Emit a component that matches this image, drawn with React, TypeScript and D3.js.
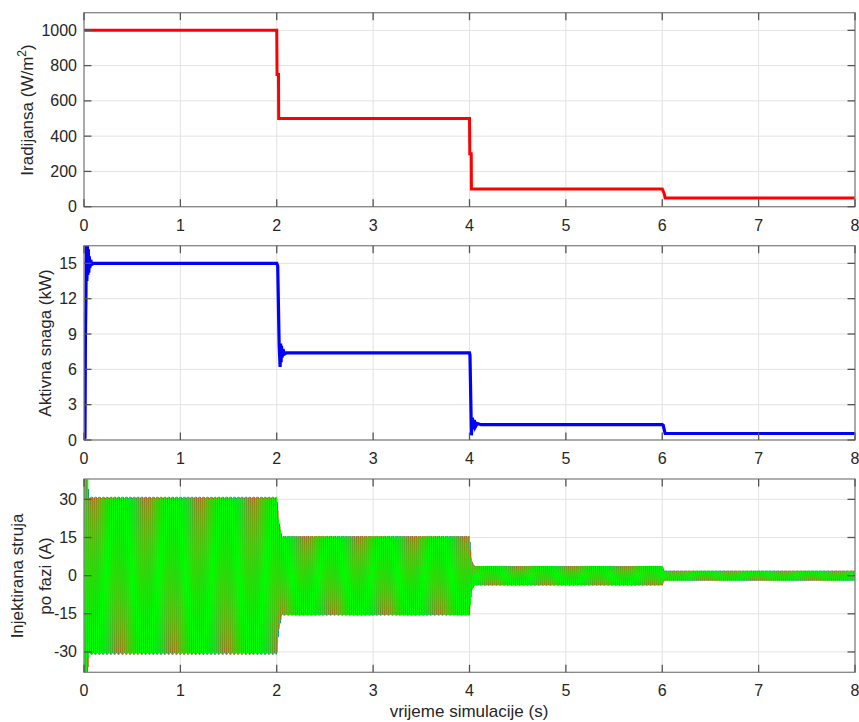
import React from "react";
import * as d3 from "d3";

const W = 859;
const H = 722;
const LEFT = 84;
const RIGHT = 855;
const FONT = "'Liberation Sans', Arial, sans-serif";
const TEXT = "#262626";

// x axis (time, s)
const timeTicks = [0, 1, 2, 3, 4, 5, 6, 7, 8];

// panel 1: irradiance (W/m2)
const irrTime = [0, 2.0, 2.003, 2.018, 2.02, 4.0, 4.003, 4.018, 4.02, 6.0, 6.02, 6.03, 8];
const irrValue = [1000, 1000, 750, 750, 500, 500, 300, 300, 100, 100, 75, 50, 50];
const irrTicks = [0, 200, 400, 600, 800, 1000];

// panel 2: active power (kW)
const powTime = [
  0, 0.005, 0.01, 0.015, 0.02, 0.025, 0.03, 0.035, 0.04, 0.045, 0.05, 0.055, 0.06, 0.07, 0.08, 0.1,
  2.0, 2.01, 2.025, 2.035, 2.04, 2.045, 2.05, 2.055, 2.065, 2.08, 2.1,
  4.0, 4.005, 4.02, 4.03, 4.04, 4.05, 4.06, 4.08, 4.12,
  6.0, 6.01, 6.03, 8,
];
const powValue = [
  0, 0.3, 0.1, 9, 12, 17.5, 13.5, 17, 14, 16.2, 14.2, 15.6, 14.6, 15.3, 14.9, 15,
  15, 14.8, 8, 6.2, 8.2, 6.6, 8, 7, 7.7, 7.3, 7.4,
  7.4, 7.2, 0.4, 1.9, 0.9, 1.7, 1.1, 1.4, 1.3,
  1.3, 1.25, 0.55, 0.55,
];
const powTicks = [0, 3, 6, 9, 12, 15];

// panel 3: injected phase current (A), amplitude envelope
const curEnvTime = [0, 0.035, 0.05, 2.0, 2.02, 2.05, 4.0, 4.02, 4.05, 6.0, 6.02, 8];
const curEnvAmp = [40, 40, 31, 31, 22, 15.6, 15.6, 6, 3.8, 3.8, 1.9, 1.9];
const curTicks = [-30, -15, 0, 15, 30];
const GRID_FREQ = 50;
const SAMPLES_PER_CYCLE = 12.5;
const phaseShift = [0, -120, 120];
const phaseColor = ["#0072BD", "#D95319", "#00FF00"];

const x = d3.scaleLinear().domain([0, 8]).range([LEFT, RIGHT]);

const panels = [
  { id: "p1", top: 12.7, bottom: 206.7, domain: [0, 1100], ticks: irrTicks },
  { id: "p2", top: 245.7, bottom: 440, domain: [0, 16.5], ticks: powTicks },
  { id: "p3", top: 479, bottom: 672.3, domain: [-38, 38], ticks: curTicks },
];

function Grid({ p, y }: { p: any; y: d3.ScaleLinear<number, number> }) {
  return (
    <g>
      {timeTicks.map((t) => (
        <line key={"gx" + t} x1={x(t)} x2={x(t)} y1={p.top} y2={p.bottom} stroke="#e3e3e3" strokeWidth={1} />
      ))}
      {p.ticks.map((v: number) => (
        <line key={"gy" + v} x1={LEFT} x2={RIGHT} y1={y(v)} y2={y(v)} stroke="#e3e3e3" strokeWidth={1} />
      ))}
    </g>
  );
}

function Frame({ p, y }: { p: any; y: d3.ScaleLinear<number, number> }) {
  const tl = 7.5;
  return (
    <g>
      <rect x={LEFT} y={p.top} width={RIGHT - LEFT} height={p.bottom - p.top} fill="none" stroke="#858585" strokeWidth={1.3} />
      {timeTicks.map((t) => (
        <g key={"tx" + t}>
          <line x1={x(t)} x2={x(t)} y1={p.bottom} y2={p.bottom - tl} stroke="#555" strokeWidth={1.3} />
          <line x1={x(t)} x2={x(t)} y1={p.top} y2={p.top + tl} stroke="#555" strokeWidth={1.3} />
          <text x={x(t)} y={p.bottom + 24} textAnchor="middle" fontSize={16} fill={TEXT} fontFamily={FONT}>
            {t}
          </text>
        </g>
      ))}
      {p.ticks.map((v: number) => (
        <g key={"ty" + v}>
          <line x1={LEFT} x2={LEFT + tl} y1={y(v)} y2={y(v)} stroke="#555" strokeWidth={1.3} />
          <line x1={RIGHT} x2={RIGHT - tl} y1={y(v)} y2={y(v)} stroke="#555" strokeWidth={1.3} />
          <text x={77} y={y(v) + 5.5} textAnchor="end" fontSize={16} fill={TEXT} fontFamily={FONT}>
            {v}
          </text>
        </g>
      ))}
    </g>
  );
}

export default function App() {
  const ys = panels.map((p) => d3.scaleLinear().domain(p.domain).range([p.bottom, p.top]));

  const irrLine = d3
    .line<number>()
    .x((_, i) => x(irrTime[i]))
    .y((d) => ys[0](d))(irrValue);

  const powLine = d3
    .line<number>()
    .x((_, i) => x(powTime[i]))
    .y((d) => ys[1](d))(powValue);

  // envelope lookup for the current traces
  const env = d3.scaleLinear().domain(curEnvTime).range(curEnvAmp).clamp(true);
  const dt = 1 / (GRID_FREQ * SAMPLES_PER_CYCLE);
  const samples = d3.range(0, 8 + dt / 2, dt);
  const curLines = phaseShift.map((ph) =>
    d3
      .line<number>()
      .x((t) => x(t))
      .y((t) => ys[2](env(t) * Math.sin(2 * Math.PI * GRID_FREQ * t + (ph * Math.PI) / 180)))(samples)
  );

  return (
    <div style={{ position: "absolute", left: 0, top: 0 }}>
      <svg width={W} height={H} style={{ display: "block", background: "#fff" }}>
        <defs>
          {panels.map((p) => (
            <clipPath id={"clip-" + p.id} key={p.id}>
              <rect x={LEFT} y={p.top} width={RIGHT - LEFT} height={p.bottom - p.top} />
            </clipPath>
          ))}
        </defs>

        {panels.map((p, i) => (
          <Grid key={"g" + p.id} p={p} y={ys[i]} />
        ))}

        <g clipPath="url(#clip-p1)">
          <path d={irrLine ?? ""} fill="none" stroke="#ff0000" strokeWidth={3} />
        </g>
        <g clipPath="url(#clip-p2)">
          <path d={powLine ?? ""} fill="none" stroke="#0000ff" strokeWidth={3.2} />
        </g>
        <g clipPath="url(#clip-p3)">
          {curLines.map((d, i) => (
            <path key={"c" + i} d={d ?? ""} fill="none" stroke={phaseColor[i]} strokeWidth={1} />
          ))}
        </g>

        {panels.map((p, i) => (
          <Frame key={"f" + p.id} p={p} y={ys[i]} />
        ))}

        <text transform="translate(33,110) rotate(-90)" textAnchor="middle" fontSize={17} fill={TEXT} fontFamily={FONT}>
          Iradijansa (W/m<tspan dy={-7} fontSize={12}>2</tspan><tspan dy={7}>)</tspan>
        </text>
        <text transform="translate(51,343) rotate(-90)" textAnchor="middle" fontSize={17} fill={TEXT} fontFamily={FONT}>
          Aktivna snaga (kW)
        </text>
        <text transform="translate(23,576) rotate(-90)" textAnchor="middle" fontSize={17} fill={TEXT} fontFamily={FONT}>
          Injektirana struja
        </text>
        <text transform="translate(51,576) rotate(-90)" textAnchor="middle" fontSize={17} fill={TEXT} fontFamily={FONT}>
          po fazi (A)
        </text>
        <text x={469} y={717} textAnchor="middle" fontSize={17} fill={TEXT} fontFamily={FONT}>
          vrijeme simulacije (s)
        </text>
      </svg>
    </div>
  );
}
